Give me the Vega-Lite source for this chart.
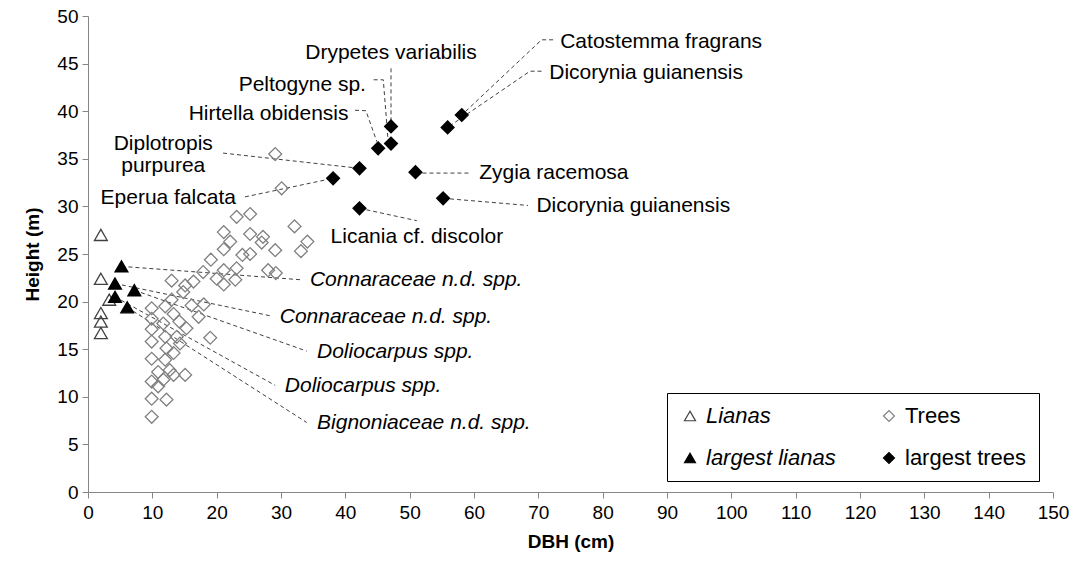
{
  "$schema": "https://vega.github.io/schema/vega-lite/v6.json",
  "width": 965,
  "height": 476,
  "autosize": {"type": "none"},
  "padding": {"left": 88, "top": 16, "right": 21, "bottom": 73},
  "background": "white",
  "config": {
    "font": "Liberation Sans",
    "view": {"stroke": null},
    "axis": {
      "grid": false,
      "domainColor": "#868686",
      "tickColor": "#868686",
      "domainWidth": 1,
      "tickWidth": 1,
      "tickSize": 6,
      "labelFontSize": 19,
      "labelColor": "#000000",
      "titleFontSize": 19,
      "titleFontWeight": "bold",
      "titleColor": "#000000",
      "labelFlush": false,
      "labelOverlap": false
    }
  },
  "datasets": {
    "points": [
      {"g": "Trees", "x": 29.1, "y": 35.5}, {"g": "Trees", "x": 30.1, "y": 31.9},
      {"g": "Trees", "x": 23.1, "y": 28.9}, {"g": "Trees", "x": 25.2, "y": 29.2},
      {"g": "Trees", "x": 32.1, "y": 27.9}, {"g": "Trees", "x": 21.1, "y": 27.3},
      {"g": "Trees", "x": 25.2, "y": 27.1}, {"g": "Trees", "x": 27.2, "y": 26.8},
      {"g": "Trees", "x": 34.1, "y": 26.3}, {"g": "Trees", "x": 22.1, "y": 26.3},
      {"g": "Trees", "x": 27.0, "y": 26.2}, {"g": "Trees", "x": 29.1, "y": 25.4},
      {"g": "Trees", "x": 33.1, "y": 25.3}, {"g": "Trees", "x": 21.1, "y": 25.5},
      {"g": "Trees", "x": 24.0, "y": 24.9}, {"g": "Trees", "x": 25.2, "y": 25.0},
      {"g": "Trees", "x": 19.1, "y": 24.4}, {"g": "Trees", "x": 23.1, "y": 23.5},
      {"g": "Trees", "x": 21.1, "y": 23.3}, {"g": "Trees", "x": 17.9, "y": 23.1},
      {"g": "Trees", "x": 28.0, "y": 23.3}, {"g": "Trees", "x": 29.2, "y": 23.0},
      {"g": "Trees", "x": 20.0, "y": 22.4}, {"g": "Trees", "x": 22.9, "y": 22.3},
      {"g": "Trees", "x": 21.1, "y": 21.8}, {"g": "Trees", "x": 13.0, "y": 22.2},
      {"g": "Trees", "x": 15.1, "y": 21.7}, {"g": "Trees", "x": 16.4, "y": 22.1},
      {"g": "Trees", "x": 14.8, "y": 21.0}, {"g": "Trees", "x": 13.0, "y": 20.2},
      {"g": "Trees", "x": 16.1, "y": 19.6}, {"g": "Trees", "x": 18.0, "y": 19.7},
      {"g": "Trees", "x": 9.9, "y": 19.3}, {"g": "Trees", "x": 12.0, "y": 19.5},
      {"g": "Trees", "x": 17.2, "y": 18.4}, {"g": "Trees", "x": 13.3, "y": 18.7},
      {"g": "Trees", "x": 9.9, "y": 18.2}, {"g": "Trees", "x": 11.7, "y": 17.7},
      {"g": "Trees", "x": 14.2, "y": 17.9}, {"g": "Trees", "x": 15.3, "y": 17.2},
      {"g": "Trees", "x": 9.9, "y": 17.1}, {"g": "Trees", "x": 12.0, "y": 16.3},
      {"g": "Trees", "x": 19.0, "y": 16.2}, {"g": "Trees", "x": 13.8, "y": 16.3},
      {"g": "Trees", "x": 9.9, "y": 15.8}, {"g": "Trees", "x": 14.3, "y": 15.6},
      {"g": "Trees", "x": 12.2, "y": 15.1}, {"g": "Trees", "x": 9.9, "y": 14.0},
      {"g": "Trees", "x": 13.3, "y": 14.6}, {"g": "Trees", "x": 12.0, "y": 13.9},
      {"g": "Trees", "x": 15.1, "y": 12.3}, {"g": "Trees", "x": 13.3, "y": 12.3},
      {"g": "Trees", "x": 10.9, "y": 12.6}, {"g": "Trees", "x": 9.9, "y": 11.6},
      {"g": "Trees", "x": 11.7, "y": 11.8}, {"g": "Trees", "x": 10.9, "y": 11.1},
      {"g": "Trees", "x": 9.9, "y": 9.8}, {"g": "Trees", "x": 12.2, "y": 9.7},
      {"g": "Trees", "x": 9.9, "y": 7.9}, {"g": "Trees", "x": 12.7, "y": 12.8},
      {"g": "Lianas", "x": 2.0, "y": 27.0}, {"g": "Lianas", "x": 2.0, "y": 22.4},
      {"g": "Lianas", "x": 3.3, "y": 20.2}, {"g": "Lianas", "x": 2.0, "y": 18.8},
      {"g": "Lianas", "x": 2.0, "y": 17.9}, {"g": "Lianas", "x": 2.0, "y": 16.7},
      {"g": "largest lianas", "x": 5.2, "y": 23.7}, {"g": "largest lianas", "x": 4.2, "y": 21.9},
      {"g": "largest lianas", "x": 7.2, "y": 21.2}, {"g": "largest lianas", "x": 4.2, "y": 20.5},
      {"g": "largest lianas", "x": 6.1, "y": 19.4},
      {"g": "largest trees", "x": 38.1, "y": 32.95}, {"g": "largest trees", "x": 42.2, "y": 34.0},
      {"g": "largest trees", "x": 45.1, "y": 36.1}, {"g": "largest trees", "x": 47.1, "y": 36.6},
      {"g": "largest trees", "x": 47.1, "y": 38.4}, {"g": "largest trees", "x": 42.2, "y": 29.8},
      {"g": "largest trees", "x": 50.9, "y": 33.6}, {"g": "largest trees", "x": 55.2, "y": 30.85},
      {"g": "largest trees", "x": 55.9, "y": 38.3}, {"g": "largest trees", "x": 58.1, "y": 39.6}
    ],
    "lines": [
      {"id": 1, "o": 1, "x": 47.1, "y": 44.5}, {"id": 1, "o": 2, "x": 47.1, "y": 39.0},
      {"id": 2, "o": 1, "x": 44.4, "y": 43.3}, {"id": 2, "o": 2, "x": 45.9, "y": 43.3}, {"id": 2, "o": 3, "x": 46.6, "y": 37.3},
      {"id": 3, "o": 1, "x": 41.5, "y": 40.1}, {"id": 3, "o": 2, "x": 43.2, "y": 40.05}, {"id": 3, "o": 3, "x": 44.9, "y": 36.8},
      {"id": 4, "o": 1, "x": 21.0, "y": 35.6}, {"id": 4, "o": 2, "x": 42.2, "y": 34.0},
      {"id": 5, "o": 1, "x": 24.4, "y": 31.0}, {"id": 5, "o": 2, "x": 38.1, "y": 32.95},
      {"id": 6, "o": 1, "x": 42.2, "y": 29.8}, {"id": 6, "o": 2, "x": 51.1, "y": 28.5},
      {"id": 7, "o": 1, "x": 50.9, "y": 33.5}, {"id": 7, "o": 2, "x": 59.6, "y": 33.5},
      {"id": 8, "o": 1, "x": 55.2, "y": 30.85}, {"id": 8, "o": 2, "x": 68.4, "y": 30.1},
      {"id": 9, "o": 1, "x": 72.3, "y": 47.5}, {"id": 9, "o": 2, "x": 70.5, "y": 47.5}, {"id": 9, "o": 3, "x": 58.1, "y": 39.6},
      {"id": 10, "o": 1, "x": 70.5, "y": 44.2}, {"id": 10, "o": 2, "x": 68.7, "y": 44.2}, {"id": 10, "o": 3, "x": 55.9, "y": 38.3},
      {"id": 11, "o": 1, "x": 5.2, "y": 23.7}, {"id": 11, "o": 2, "x": 33.0, "y": 22.3},
      {"id": 12, "o": 1, "x": 4.2, "y": 21.9}, {"id": 12, "o": 2, "x": 28.4, "y": 18.5},
      {"id": 13, "o": 1, "x": 7.2, "y": 21.2}, {"id": 13, "o": 2, "x": 34.0, "y": 14.8},
      {"id": 14, "o": 1, "x": 4.2, "y": 20.5}, {"id": 14, "o": 2, "x": 29.1, "y": 11.2},
      {"id": 15, "o": 1, "x": 6.1, "y": 19.4}, {"id": 15, "o": 2, "x": 34.0, "y": 7.3}
    ],
    "labels": [
      {"s": "c", "x": 47.1, "y": 46.1, "t": "Drypetes variabilis"},
      {"s": "c", "x": 11.7, "y": 36.6, "t": "Diplotropis"},
      {"s": "c", "x": 11.7, "y": 34.2, "t": "purpurea"},
      {"s": "r", "x": 43.2, "y": 42.7, "t": "Peltogyne sp."},
      {"s": "r", "x": 40.5, "y": 39.7, "t": "Hirtella obidensis"},
      {"s": "r", "x": 23.0, "y": 30.85, "t": "Eperua falcata"},
      {"s": "l", "x": 37.7, "y": 26.8, "t": "Licania cf. discolor"},
      {"s": "l", "x": 60.8, "y": 33.5, "t": "Zygia racemosa"},
      {"s": "l", "x": 69.7, "y": 30.0, "t": "Dicorynia guianensis"},
      {"s": "l", "x": 73.4, "y": 47.3, "t": "Catostemma fragrans"},
      {"s": "l", "x": 71.7, "y": 44.0, "t": "Dicorynia guianensis"},
      {"s": "i", "x": 34.5, "y": 22.3, "t": "Connaraceae n.d. spp."},
      {"s": "i", "x": 29.8, "y": 18.4, "t": "Connaraceae n.d. spp."},
      {"s": "i", "x": 35.6, "y": 14.7, "t": "Doliocarpus spp."},
      {"s": "i", "x": 30.6, "y": 11.1, "t": "Doliocarpus spp."},
      {"s": "i", "x": 35.6, "y": 7.3, "t": "Bignoniaceae n.d. spp."}
    ]
  },
  "layer": [
    {
      "data": {"name": "lines"},
      "mark": {"type": "line", "strokeDash": [4, 3], "color": "#404040", "strokeWidth": 1},
      "encoding": {
        "x": {
          "field": "x", "type": "quantitative",
          "scale": {"domain": [0, 150], "nice": false, "zero": false},
          "axis": {"title": "DBH (cm)", "values": [0, 10, 20, 30, 40, 50, 60, 70, 80, 90, 100, 110, 120, 130, 140, 150], "labelPadding": 5, "titlePadding": 10}
        },
        "y": {
          "field": "y", "type": "quantitative",
          "scale": {"domain": [0, 50], "nice": false, "zero": false},
          "axis": {"title": "Height (m)", "values": [0, 5, 10, 15, 20, 25, 30, 35, 40, 45, 50], "labelPadding": 4, "titlePadding": 14}
        },
        "detail": {"field": "id", "type": "nominal"},
        "order": {"field": "o", "type": "quantitative"}
      }
    },
    {
      "data": {"name": "points"},
      "mark": {"type": "point", "filled": true, "size": 165, "strokeWidth": 1.3, "opacity": 1},
      "encoding": {
        "x": {"field": "x", "type": "quantitative"},
        "y": {"field": "y", "type": "quantitative"},
        "shape": {
          "field": "g", "type": "nominal",
          "scale": {"domain": ["Lianas", "Trees", "largest lianas", "largest trees"], "range": ["triangle-up", "diamond", "triangle-up", "diamond"]},
          "legend": {
            "title": null,
            "orient": "none",
            "legendX": 579,
            "legendY": 377,
            "direction": "horizontal",
            "columns": 2,
            "gridAlign": "all",
            "padding": 12,
            "columnPadding": 42,
            "rowPadding": 20,
            "symbolSize": 120,
            "symbolStrokeWidth": 1.2,
            "labelFontSize": 22,
            "labelOffset": 5,
            "labelColor": "#000000",
            "labelLimit": 400,
            "labelFontStyle": {"expr": "(datum.value == 'Lianas' || datum.value == 'largest lianas') ? 'italic' : 'normal'"},
            "strokeColor": "#000000",
            "fillColor": "#ffffff"
          }
        },
        "fill": {
          "field": "g", "type": "nominal",
          "scale": {"domain": ["Lianas", "Trees", "largest lianas", "largest trees"], "range": ["transparent", "transparent", "#000000", "#000000"]},
          "legend": null
        },
        "stroke": {
          "field": "g", "type": "nominal",
          "scale": {"domain": ["Lianas", "Trees", "largest lianas", "largest trees"], "range": ["#404040", "#808080", "#000000", "#000000"]},
          "legend": null
        }
      }
    },
    {
      "data": {"name": "labels"},
      "transform": [{"filter": "datum.s == 'c'"}],
      "mark": {"type": "text", "align": "center", "baseline": "middle", "fontSize": 21, "color": "#000000"},
      "encoding": {"x": {"field": "x", "type": "quantitative"}, "y": {"field": "y", "type": "quantitative"}, "text": {"field": "t"}}
    },
    {
      "data": {"name": "labels"},
      "transform": [{"filter": "datum.s == 'r'"}],
      "mark": {"type": "text", "align": "right", "baseline": "middle", "fontSize": 21, "color": "#000000"},
      "encoding": {"x": {"field": "x", "type": "quantitative"}, "y": {"field": "y", "type": "quantitative"}, "text": {"field": "t"}}
    },
    {
      "data": {"name": "labels"},
      "transform": [{"filter": "datum.s == 'l'"}],
      "mark": {"type": "text", "align": "left", "baseline": "middle", "fontSize": 21, "color": "#000000"},
      "encoding": {"x": {"field": "x", "type": "quantitative"}, "y": {"field": "y", "type": "quantitative"}, "text": {"field": "t"}}
    },
    {
      "data": {"name": "labels"},
      "transform": [{"filter": "datum.s == 'i'"}],
      "mark": {"type": "text", "align": "left", "baseline": "middle", "fontSize": 21, "fontStyle": "italic", "color": "#000000"},
      "encoding": {"x": {"field": "x", "type": "quantitative"}, "y": {"field": "y", "type": "quantitative"}, "text": {"field": "t"}}
    }
  ]
}
